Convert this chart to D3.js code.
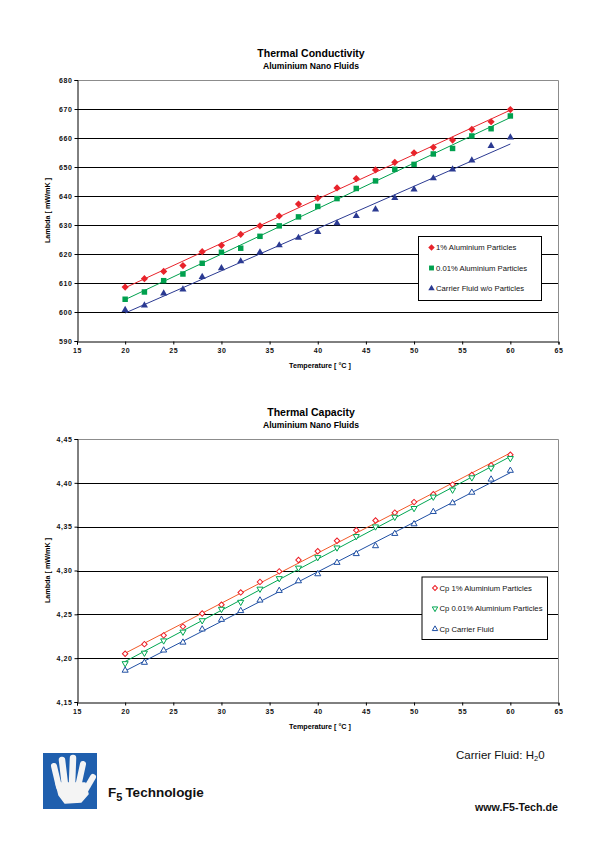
<!DOCTYPE html>
<html>
<head>
<meta charset="utf-8">
<script src="https://cdn.jsdelivr.net/npm/d3@7"></script>
<style>
  html, body { margin: 0; padding: 0; background: #fff; }
  svg { display: block; }
  text { font-family: "Liberation Sans", Arial, sans-serif; }
</style>
</head>
<body>
<svg id="page" width="595" height="842"></svg>
<script>
// ---------------- DATA ----------------
const temperatures = [20,22,24,26,28,30,32,34,36,38,40,42,44,46,48,50,52,54,56,58,60];

// Thermal conductivity (mW/mK)
const tcOnePercent   = [608.6,611.5,614.0,616.0,620.8,623.0,626.8,629.7,633.1,637.2,639.3,642.8,646.0,649.0,651.6,654.9,656.8,659.3,663.0,665.6,669.8];
const tcPointZeroOne = [604.4,606.9,610.8,613.1,616.8,620.6,622.0,626.1,629.7,632.8,636.4,639.1,642.6,645.2,649.2,650.9,654.5,656.4,660.7,663.2,667.6];
const tcCarrier      = [600.7,602.3,606.4,607.8,612.1,615.1,617.5,620.6,623.0,625.6,627.6,630.6,633.1,635.4,639.3,642.3,646.1,649.2,652.3,657.3,660.2];

// Thermal capacity
const cpOnePercent   = [4.205,4.216,4.226,4.236,4.251,4.261,4.275,4.287,4.299,4.312,4.322,4.334,4.346,4.357,4.366,4.378,4.387,4.398,4.409,4.420,4.432];
const cpPointZeroOne = [4.194,4.206,4.220,4.230,4.243,4.256,4.264,4.279,4.291,4.303,4.315,4.326,4.339,4.350,4.361,4.371,4.384,4.392,4.406,4.417,4.428];
const cpCarrier      = [4.186,4.195,4.209,4.218,4.233,4.244,4.254,4.266,4.277,4.288,4.296,4.309,4.319,4.328,4.342,4.353,4.367,4.377,4.389,4.404,4.414];

const xTicks  = [15,20,25,30,35,40,45,50,55,60,65];
const tcTicks = [590,600,610,620,630,640,650,660,670,680];
const cpTicks = [4.15,4.20,4.25,4.30,4.35,4.40,4.45];

const tcLegend = ["1% Aluminium Particles", "0.01% Aluminium Particles", "Carrier Fluid w/o Particles"];
const cpLegend = ["Cp 1% Aluminium Particles", "Cp 0.01% Aluminium Particles", "Cp Carrier Fluid"];

// ---------------- DRAW ----------------
const svg = d3.select("#page");

function linreg(xs, ys) {
  const n = xs.length;
  const mx = d3.mean(xs), my = d3.mean(ys);
  let sxy = 0, sxx = 0;
  for (let i = 0; i < n; i++) { sxy += (xs[i]-mx)*(ys[i]-my); sxx += (xs[i]-mx)*(xs[i]-mx); }
  const b = sxy / sxx;
  return x => my + b*(x - mx);
}

function drawChart(cfg) {
  const g = svg.append("g");
  const left = 77, right = 558.5;
  const x = d3.scaleLinear().domain([15, 65]).range([left, right]);
  const y = d3.scaleLinear().domain(cfg.domain).range([cfg.bottom, cfg.top]);
  const cx = 311;

  g.append("text").attr("x", cx).attr("y", cfg.titleY).attr("text-anchor", "middle")
    .attr("font-size", 10.5).attr("font-weight", "bold").text(cfg.title);
  g.append("text").attr("x", cx).attr("y", cfg.titleY + 12).attr("text-anchor", "middle")
    .attr("font-size", 8.6).attr("font-weight", "bold").text(cfg.subtitle);

  // gridlines
  g.append("g").selectAll("line").data(cfg.ticks.slice(1)).join("line")
    .attr("x1", left).attr("x2", right)
    .attr("y1", d => Math.round(y(d)) + 0.5).attr("y2", d => Math.round(y(d)) + 0.5)
    .attr("stroke", (d, i, a) => i === a.length - 1 ? "#8c8c8c" : "#000")
    .attr("stroke-width", 1);
  // right border
  g.append("line").attr("x1", right).attr("x2", right)
    .attr("y1", Math.round(y(cfg.domain[1])) + 0.5).attr("y2", cfg.bottom)
    .attr("stroke", "#8c8c8c").attr("stroke-width", 1);

  // axes
  const yAxis = d3.axisLeft(y).tickValues(cfg.ticks).tickSize(3).tickPadding(2)
    .tickFormat(cfg.fmt);
  const ya = g.append("g").attr("transform", `translate(${left + 0.5},0)`).call(yAxis);
  const xAxis = d3.axisBottom(x).tickValues(xTicks).tickSize(3).tickPadding(4)
    .tickFormat(d3.format("d"));
  const xa = g.append("g").attr("transform", `translate(0,${Math.round(cfg.bottom) + 0.5})`).call(xAxis);
  [ya, xa].forEach(a => {
    a.selectAll("path").attr("stroke", "#000").attr("stroke-width", 1);
    a.selectAll("line").attr("stroke", "#000");
    a.selectAll("text").attr("font-size", 7).attr("font-weight", "bold")
      .attr("font-family", "Liberation Sans, Arial, sans-serif").attr("fill", "#111")
      .attr("letter-spacing", 0.6);
  });

  g.append("text").attr("x", 320).attr("y", cfg.bottom + 27).attr("text-anchor", "middle")
    .attr("font-size", 7.2).attr("font-weight", "bold").text("Temperature  [ °C ]");
  g.append("text").attr("transform", `translate(50,${(cfg.top + cfg.bottom) / 2}) rotate(-90)`)
    .attr("text-anchor", "middle").attr("font-size", 7.2).attr("font-weight", "bold")
    .text("Lambda  [ mW/mK ]");

  // series
  cfg.series.forEach(s => {
    const f = linreg(temperatures, s.values);
    g.append("line")
      .attr("x1", x(temperatures[0])).attr("y1", y(f(temperatures[0])))
      .attr("x2", x(temperatures[temperatures.length - 1])).attr("y2", y(f(temperatures[temperatures.length - 1])))
      .attr("stroke", s.line).attr("stroke-width", 1);
    g.append("g").selectAll("path").data(s.values).join("path")
      .attr("d", d3.symbol().type(s.symbol).size(s.size))
      .attr("transform", (d, i) => `translate(${x(temperatures[i])},${y(d)}) rotate(${s.rot || 0})`)
      .attr("fill", s.open ? "#fff" : s.color)
      .attr("stroke", s.open ? s.color : "none")
      .attr("stroke-width", 1);
  });

  // legend
  const L = cfg.legend;
  g.append("rect").attr("x", L.x + 0.5).attr("y", L.y + 0.5).attr("width", L.w).attr("height", L.h)
    .attr("fill", "#fff").attr("stroke", "#000").attr("stroke-width", 1);
  cfg.series.forEach((s, i) => {
    const ly = L.y + 11.5 + i * 20.5;
    g.append("path").attr("d", d3.symbol().type(s.symbol).size(s.size * 0.8))
      .attr("transform", `translate(${L.x + 13.5},${ly}) rotate(${s.rot || 0})`)
      .attr("fill", s.open ? "#fff" : s.color)
      .attr("stroke", s.open ? s.color : "none").attr("stroke-width", 1);
    g.append("text").attr("x", L.x + 18).attr("y", ly + 2.7)
      .attr("font-size", 7.7).attr("fill", "#111").text(cfg.legendLabels[i]);
  });
}

drawChart({
  title: "Thermal Conductivity", subtitle: "Aluminium Nano Fluids", titleY: 57,
  domain: [590, 680], top: 80, bottom: 341, ticks: tcTicks, fmt: d3.format("d"),
  legend: { x: 418, y: 236, w: 123, h: 64 }, legendLabels: tcLegend,
  series: [
    { values: tcOnePercent, color: "#e8232b", line: "#e8232b", symbol: d3.symbolSquare, rot: 45, size: 26 },
    { values: tcPointZeroOne, color: "#00a04e", line: "#00a04e", symbol: d3.symbolSquare, size: 30 },
    { values: tcCarrier, color: "#2b3a92", line: "#2b3a92", symbol: d3.symbolTriangle, size: 22 }
  ]
});

drawChart({
  title: "Thermal Capacity", subtitle: "Aluminium Nano Fluids", titleY: 416,
  domain: [4.15, 4.45], top: 439, bottom: 702, ticks: cpTicks,
  fmt: d => d3.format(".2f")(d).replace(".", ","),
  legend: { x: 421.5, y: 576.5, w: 125.5, h: 62.5 }, legendLabels: cpLegend,
  series: [
    { values: cpOnePercent, color: "#ec1c24", line: "#f15a29", symbol: d3.symbolSquare, rot: 45, size: 15, open: true },
    { values: cpPointZeroOne, color: "#00a651", line: "#00a651", symbol: d3.symbolTriangle, rot: 180, size: 16, open: true },
    { values: cpCarrier, color: "#1f4fa3", line: "#1f4fa3", symbol: d3.symbolTriangle, size: 16, open: true }
  ]
});

// ---------------- FOOTER ----------------
const logo = svg.append("g").attr("transform", "translate(43,753)");
logo.append("rect").attr("width", 54).attr("height", 56).attr("fill", "#1f5fae");
const hand = logo.append("g").attr("fill", "#f4f4f4").attr("stroke", "#f4f4f4")
  .attr("stroke-linecap", "round").attr("stroke-linejoin", "round");
[[16,34,11,13,6],[22,32,19,7,6.5],[29,32,30,5,6.5],[35,34,40,11,6],[39,43,50,24,6]].forEach(f => {
  hand.append("line").attr("x1", f[0]).attr("y1", f[1]).attr("x2", f[2]).attr("y2", f[3])
    .attr("stroke-width", f[4]);
});
hand.append("path").attr("d", "M13,30 L42,30 L45,41 L38,49 L22,50 L16,42 Z").attr("stroke-width", 1.5);

const brand = svg.append("text").attr("x", 108).attr("y", 797).attr("font-family", "Lato, 'Open Sans', sans-serif")
  .attr("font-weight", "900").attr("font-size", 13.5).attr("fill", "#111");
brand.append("tspan").text("F");
brand.append("tspan").attr("dy", 4).attr("font-size", 11).text("5");
brand.append("tspan").attr("dy", -4).attr("dx", 3).text("Technologie");

const carrier = svg.append("text").attr("x", 456).attr("y", 758.5).attr("font-size", 11.5).attr("fill", "#111");
carrier.append("tspan").text("Carrier Fluid: H");
carrier.append("tspan").attr("dy", 2.5).attr("font-size", 7.5).text("2");
carrier.append("tspan").attr("dy", -2.5).text("0");

svg.append("text").attr("x", 475).attr("y", 810.5).attr("font-size", 10.3).attr("font-weight", "bold")
  .attr("font-family", "'DejaVu Sans', Verdana, sans-serif").attr("fill", "#111")
  .attr("textLength", 83).attr("lengthAdjust", "spacingAndGlyphs").text("www.F5-Tech.de");
</script>
</body>
</html>
